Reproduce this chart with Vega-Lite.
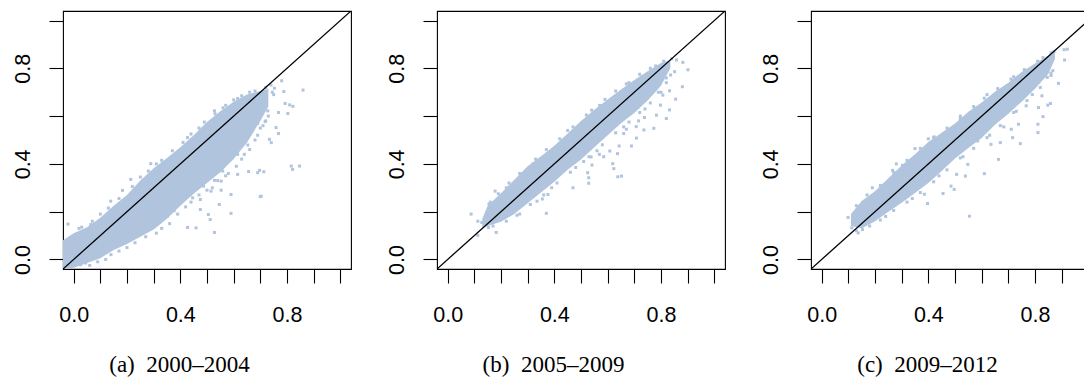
{
"$schema": "https://vega.github.io/schema/vega-lite/v6.json",
"padding": {"left": 0, "top": 10, "right": 0, "bottom": 0},
"spacing": 22,
"background": "white",
"config": {
  "view": {"stroke": "black", "strokeWidth": 1.1},
  "font": "Liberation Sans",
  "axis": {"grid": false, "domain": false, "ticks": true, "tickColor": "black", "tickSize": 14, "tickWidth": 1.1,
    "labelFont": "Liberation Sans", "labelFontSize": 21.5, "labelColor": "black", "labelFlush": false, "labelOverlap": false,
    "values": [0, 0.2, 0.4, 0.6, 0.8, 1.0],
    "labelExpr": "datum.value < 0.05 || abs(datum.value - 0.4) < 0.01 || abs(datum.value - 0.8) < 0.01 ? format(datum.value, '.1f') : ''",
    "titleFont": "Liberation Serif", "titleFontSize": 23, "titleFontWeight": "normal", "titleColor": "black"},
  "axisX": {"labelPadding": 21, "labelBaseline": "top", "labelAlign": "center", "labelAngle": 0, "titleX": 116, "titleY": 102, "titleAlign": "center", "titleBaseline": "alphabetic", "titleAnchor": null},
  "axisY": {"labelAngle": 270, "labelAlign": "center", "labelBaseline": "alphabetic", "labelPadding": 20, "minExtent": 62, "maxExtent": 62}
},
"datasets": {
  "diag": [{"x": -0.04, "y": -0.04, "x2": 1.04, "y2": 1.04}],
  "band_a": [
    {"x": -0.04, "lo": -0.04, "hi": 0.08},
    {"x": 0.00, "lo": -0.035, "hi": 0.11},
    {"x": 0.05, "lo": -0.015, "hi": 0.135},
    {"x": 0.10, "lo": 0.005, "hi": 0.175},
    {"x": 0.15, "lo": 0.04, "hi": 0.225},
    {"x": 0.20, "lo": 0.065, "hi": 0.27},
    {"x": 0.25, "lo": 0.095, "hi": 0.33},
    {"x": 0.30, "lo": 0.125, "hi": 0.382},
    {"x": 0.35, "lo": 0.17, "hi": 0.425},
    {"x": 0.40, "lo": 0.225, "hi": 0.47},
    {"x": 0.45, "lo": 0.275, "hi": 0.52},
    {"x": 0.50, "lo": 0.32, "hi": 0.575},
    {"x": 0.55, "lo": 0.365, "hi": 0.62},
    {"x": 0.60, "lo": 0.42, "hi": 0.66},
    {"x": 0.65, "lo": 0.49, "hi": 0.69},
    {"x": 0.70, "lo": 0.58, "hi": 0.705},
    {"x": 0.73, "lo": 0.64, "hi": 0.715}
  ],
  "pts_a": [
    {"x": -0.021, "y": 0.148}, {"x": 0.064, "y": 0.146}, {"x": 0.860, "y": 0.709}, {"x": 0.780, "y": 0.748},
    {"x": 0.788, "y": 0.703}, {"x": 0.753, "y": 0.717}, {"x": 0.810, "y": 0.647}, {"x": 0.793, "y": 0.653},
    {"x": 0.822, "y": 0.641}, {"x": 0.803, "y": 0.611}, {"x": 0.768, "y": 0.615}, {"x": 0.728, "y": 0.622},
    {"x": 0.759, "y": 0.552}, {"x": 0.768, "y": 0.527}, {"x": 0.734, "y": 0.503}, {"x": 0.741, "y": 0.489},
    {"x": 0.690, "y": 0.569}, {"x": 0.718, "y": 0.577}, {"x": 0.662, "y": 0.552}, {"x": 0.653, "y": 0.479},
    {"x": 0.625, "y": 0.489}, {"x": 0.615, "y": 0.440}, {"x": 0.586, "y": 0.419}, {"x": 0.656, "y": 0.368},
    {"x": 0.690, "y": 0.363}, {"x": 0.713, "y": 0.367}, {"x": 0.697, "y": 0.373}, {"x": 0.816, "y": 0.391},
    {"x": 0.847, "y": 0.391}, {"x": 0.821, "y": 0.377}, {"x": 0.615, "y": 0.356}, {"x": 0.559, "y": 0.370},
    {"x": 0.553, "y": 0.328}, {"x": 0.528, "y": 0.331}, {"x": 0.515, "y": 0.286}, {"x": 0.487, "y": 0.307},
    {"x": 0.452, "y": 0.307}, {"x": 0.590, "y": 0.272}, {"x": 0.700, "y": 0.263}, {"x": 0.546, "y": 0.230},
    {"x": 0.505, "y": 0.188}, {"x": 0.512, "y": 0.167}, {"x": 0.590, "y": 0.193}, {"x": 0.459, "y": 0.132},
    {"x": 0.427, "y": 0.134}, {"x": 0.528, "y": 0.113}, {"x": 0.475, "y": 0.209}, {"x": 0.446, "y": 0.258},
    {"x": 0.402, "y": 0.272}, {"x": 0.352, "y": 0.181}, {"x": 0.377, "y": 0.204}, {"x": 0.308, "y": 0.160},
    {"x": 0.277, "y": 0.139}, {"x": 0.239, "y": 0.125}, {"x": 0.208, "y": 0.092}, {"x": 0.164, "y": 0.076},
    {"x": 0.026, "y": -0.022}, {"x": 0.045, "y": -0.015}, {"x": 0.214, "y": 0.335}, {"x": 0.183, "y": 0.289},
    {"x": 0.139, "y": 0.244}, {"x": 0.289, "y": 0.401}, {"x": 0.427, "y": 0.510}, {"x": 0.528, "y": 0.622},
    {"x": 0.615, "y": 0.674}, {"x": 0.553, "y": 0.290}, {"x": 0.475, "y": 0.251}, {"x": 0.703, "y": 0.265},
    {"x": 0.02, "y": 0.13}, {"x": 0.10, "y": 0.19}, {"x": 0.25, "y": 0.345}, {"x": 0.33, "y": 0.415},
    {"x": 0.47, "y": 0.55}, {"x": 0.57, "y": 0.645}, {"x": 0.66, "y": 0.70}, {"x": 0.72, "y": 0.72},
    {"x": 0.74, "y": 0.73}, {"x": 0.12, "y": 0.0}, {"x": 0.20, "y": 0.05}, {"x": 0.33, "y": 0.13},
    {"x": 0.42, "y": 0.22}, {"x": 0.50, "y": 0.29}, {"x": 0.58, "y": 0.36}, {"x": 0.64, "y": 0.44},
    {"x": 0.68, "y": 0.50}, {"x": 0.70, "y": 0.55}, {"x": 0.72, "y": 0.58}, {"x": 0.745, "y": 0.70},
    {"x": 0.75, "y": 0.69},
    {"x": 0.03, "y": 0.135}, {"x": 0.07, "y": 0.16}, {"x": 0.13, "y": 0.215}, {"x": 0.17, "y": 0.255},
    {"x": 0.22, "y": 0.305}, {"x": 0.28, "y": 0.37}, {"x": 0.31, "y": 0.40}, {"x": 0.37, "y": 0.455},
    {"x": 0.41, "y": 0.49}, {"x": 0.44, "y": 0.525}, {"x": 0.49, "y": 0.575}, {"x": 0.53, "y": 0.61},
    {"x": 0.56, "y": 0.635}, {"x": 0.60, "y": 0.668}, {"x": 0.63, "y": 0.685}, {"x": 0.68, "y": 0.705},
    {"x": 0.06, "y": -0.025}, {"x": 0.09, "y": -0.01}, {"x": 0.14, "y": 0.02}, {"x": 0.17, "y": 0.035},
    {"x": 0.23, "y": 0.07}, {"x": 0.27, "y": 0.095}, {"x": 0.31, "y": 0.11}, {"x": 0.36, "y": 0.15},
    {"x": 0.39, "y": 0.19}, {"x": 0.44, "y": 0.24}, {"x": 0.47, "y": 0.27}, {"x": 0.52, "y": 0.30},
    {"x": 0.54, "y": 0.33}, {"x": 0.57, "y": 0.35}, {"x": 0.61, "y": 0.39}, {"x": 0.63, "y": 0.42},
    {"x": 0.66, "y": 0.46}, {"x": 0.69, "y": 0.52}, {"x": 0.71, "y": 0.56}, {"x": 0.73, "y": 0.60}
  ],
  "band_b": [
    {"x": 0.13, "lo": 0.13, "hi": 0.17},
    {"x": 0.15, "lo": 0.14, "hi": 0.225},
    {"x": 0.20, "lo": 0.158, "hi": 0.277},
    {"x": 0.25, "lo": 0.19, "hi": 0.334},
    {"x": 0.30, "lo": 0.235, "hi": 0.39},
    {"x": 0.35, "lo": 0.28, "hi": 0.432},
    {"x": 0.40, "lo": 0.325, "hi": 0.476},
    {"x": 0.45, "lo": 0.375, "hi": 0.527},
    {"x": 0.50, "lo": 0.418, "hi": 0.58},
    {"x": 0.55, "lo": 0.47, "hi": 0.627},
    {"x": 0.60, "lo": 0.52, "hi": 0.67},
    {"x": 0.65, "lo": 0.57, "hi": 0.711},
    {"x": 0.70, "lo": 0.613, "hi": 0.751},
    {"x": 0.75, "lo": 0.665, "hi": 0.788},
    {"x": 0.80, "lo": 0.727, "hi": 0.822},
    {"x": 0.835, "lo": 0.80, "hi": 0.835}
  ],
  "pts_b": [
    {"x": 0.088, "y": 0.190}, {"x": 0.113, "y": 0.160}, {"x": 0.128, "y": 0.155}, {"x": 0.153, "y": 0.134},
    {"x": 0.113, "y": 0.101}, {"x": 0.182, "y": 0.113}, {"x": 0.155, "y": 0.232}, {"x": 0.178, "y": 0.286},
    {"x": 0.370, "y": 0.193}, {"x": 0.335, "y": 0.244}, {"x": 0.355, "y": 0.253}, {"x": 0.376, "y": 0.272},
    {"x": 0.470, "y": 0.300}, {"x": 0.529, "y": 0.319}, {"x": 0.529, "y": 0.342}, {"x": 0.525, "y": 0.363},
    {"x": 0.623, "y": 0.380}, {"x": 0.638, "y": 0.346}, {"x": 0.652, "y": 0.349}, {"x": 0.619, "y": 0.401},
    {"x": 0.637, "y": 0.443}, {"x": 0.585, "y": 0.430}, {"x": 0.569, "y": 0.440}, {"x": 0.538, "y": 0.429},
    {"x": 0.541, "y": 0.395}, {"x": 0.689, "y": 0.475}, {"x": 0.643, "y": 0.475}, {"x": 0.670, "y": 0.545},
    {"x": 0.707, "y": 0.556}, {"x": 0.736, "y": 0.542}, {"x": 0.773, "y": 0.549}, {"x": 0.738, "y": 0.594},
    {"x": 0.783, "y": 0.604}, {"x": 0.820, "y": 0.590}, {"x": 0.798, "y": 0.646}, {"x": 0.832, "y": 0.626},
    {"x": 0.807, "y": 0.688}, {"x": 0.832, "y": 0.706}, {"x": 0.855, "y": 0.671}, {"x": 0.880, "y": 0.723},
    {"x": 0.882, "y": 0.825}, {"x": 0.901, "y": 0.794}, {"x": 0.858, "y": 0.835}, {"x": 0.851, "y": 0.786},
    {"x": 0.836, "y": 0.772}, {"x": 0.708, "y": 0.508}, {"x": 0.608, "y": 0.454}, {"x": 0.660, "y": 0.527},
    {"x": 0.716, "y": 0.580}, {"x": 0.22, "y": 0.30}, {"x": 0.32, "y": 0.40}, {"x": 0.45, "y": 0.54},
    {"x": 0.57, "y": 0.645}, {"x": 0.68, "y": 0.74}, {"x": 0.78, "y": 0.81}, {"x": 0.84, "y": 0.84},
    {"x": 0.27, "y": 0.19}, {"x": 0.39, "y": 0.30}, {"x": 0.48, "y": 0.385}, {"x": 0.56, "y": 0.455},
    {"x": 0.66, "y": 0.555}, {"x": 0.74, "y": 0.63}, {"x": 0.79, "y": 0.70}, {"x": 0.82, "y": 0.76},
    {"x": 0.16, "y": 0.24}, {"x": 0.19, "y": 0.275}, {"x": 0.23, "y": 0.32}, {"x": 0.27, "y": 0.36},
    {"x": 0.33, "y": 0.42}, {"x": 0.37, "y": 0.46}, {"x": 0.42, "y": 0.505}, {"x": 0.47, "y": 0.555},
    {"x": 0.52, "y": 0.605}, {"x": 0.54, "y": 0.625}, {"x": 0.59, "y": 0.67}, {"x": 0.63, "y": 0.705},
    {"x": 0.67, "y": 0.735}, {"x": 0.72, "y": 0.775}, {"x": 0.76, "y": 0.80}, {"x": 0.81, "y": 0.83},
    {"x": 0.17, "y": 0.14}, {"x": 0.22, "y": 0.16}, {"x": 0.26, "y": 0.185}, {"x": 0.31, "y": 0.23},
    {"x": 0.36, "y": 0.27}, {"x": 0.41, "y": 0.32}, {"x": 0.46, "y": 0.365}, {"x": 0.51, "y": 0.41},
    {"x": 0.53, "y": 0.43}, {"x": 0.58, "y": 0.48}, {"x": 0.63, "y": 0.53}, {"x": 0.68, "y": 0.575},
    {"x": 0.72, "y": 0.615}, {"x": 0.76, "y": 0.655}, {"x": 0.80, "y": 0.70}, {"x": 0.82, "y": 0.74}
  ],
  "band_c": [
    {"x": 0.11, "lo": 0.14, "hi": 0.19},
    {"x": 0.15, "lo": 0.13, "hi": 0.245},
    {"x": 0.20, "lo": 0.16, "hi": 0.285},
    {"x": 0.25, "lo": 0.20, "hi": 0.34},
    {"x": 0.30, "lo": 0.237, "hi": 0.393},
    {"x": 0.35, "lo": 0.278, "hi": 0.44},
    {"x": 0.40, "lo": 0.32, "hi": 0.492},
    {"x": 0.45, "lo": 0.37, "hi": 0.53},
    {"x": 0.50, "lo": 0.423, "hi": 0.569},
    {"x": 0.55, "lo": 0.467, "hi": 0.618},
    {"x": 0.60, "lo": 0.508, "hi": 0.657},
    {"x": 0.65, "lo": 0.564, "hi": 0.702},
    {"x": 0.70, "lo": 0.61, "hi": 0.74},
    {"x": 0.75, "lo": 0.66, "hi": 0.785},
    {"x": 0.80, "lo": 0.715, "hi": 0.82},
    {"x": 0.85, "lo": 0.776, "hi": 0.854},
    {"x": 0.875, "lo": 0.84, "hi": 0.875}
  ],
  "pts_c": [
    {"x": 0.099, "y": 0.176}, {"x": 0.115, "y": 0.155}, {"x": 0.113, "y": 0.132}, {"x": 0.137, "y": 0.111},
    {"x": 0.153, "y": 0.125}, {"x": 0.155, "y": 0.232}, {"x": 0.266, "y": 0.373}, {"x": 0.303, "y": 0.394},
    {"x": 0.350, "y": 0.464}, {"x": 0.422, "y": 0.513}, {"x": 0.455, "y": 0.276}, {"x": 0.497, "y": 0.293},
    {"x": 0.485, "y": 0.307}, {"x": 0.397, "y": 0.234}, {"x": 0.385, "y": 0.273}, {"x": 0.554, "y": 0.181},
    {"x": 0.539, "y": 0.349}, {"x": 0.506, "y": 0.356}, {"x": 0.548, "y": 0.398}, {"x": 0.585, "y": 0.496},
    {"x": 0.635, "y": 0.482}, {"x": 0.670, "y": 0.489}, {"x": 0.663, "y": 0.419}, {"x": 0.745, "y": 0.485},
    {"x": 0.716, "y": 0.510}, {"x": 0.683, "y": 0.555}, {"x": 0.738, "y": 0.566}, {"x": 0.811, "y": 0.531},
    {"x": 0.811, "y": 0.566}, {"x": 0.830, "y": 0.598}, {"x": 0.813, "y": 0.636}, {"x": 0.858, "y": 0.653},
    {"x": 0.848, "y": 0.646}, {"x": 0.826, "y": 0.685}, {"x": 0.767, "y": 0.643}, {"x": 0.888, "y": 0.737},
    {"x": 0.846, "y": 0.762}, {"x": 0.867, "y": 0.790}, {"x": 0.911, "y": 0.835}, {"x": 0.909, "y": 0.878},
    {"x": 0.921, "y": 0.880}, {"x": 0.871, "y": 0.870}, {"x": 0.610, "y": 0.359}, {"x": 0.711, "y": 0.545},
    {"x": 0.19, "y": 0.30}, {"x": 0.28, "y": 0.40}, {"x": 0.40, "y": 0.505}, {"x": 0.52, "y": 0.60},
    {"x": 0.62, "y": 0.69}, {"x": 0.72, "y": 0.765}, {"x": 0.83, "y": 0.845}, {"x": 0.24, "y": 0.18},
    {"x": 0.34, "y": 0.255}, {"x": 0.44, "y": 0.35}, {"x": 0.53, "y": 0.43}, {"x": 0.63, "y": 0.52},
    {"x": 0.73, "y": 0.62}, {"x": 0.79, "y": 0.69}, {"x": 0.86, "y": 0.78},
    {"x": 0.13, "y": 0.225}, {"x": 0.17, "y": 0.27}, {"x": 0.22, "y": 0.31}, {"x": 0.27, "y": 0.365},
    {"x": 0.32, "y": 0.415}, {"x": 0.37, "y": 0.465}, {"x": 0.42, "y": 0.51}, {"x": 0.47, "y": 0.55},
    {"x": 0.52, "y": 0.59}, {"x": 0.57, "y": 0.64}, {"x": 0.61, "y": 0.675}, {"x": 0.66, "y": 0.715},
    {"x": 0.71, "y": 0.755}, {"x": 0.76, "y": 0.795}, {"x": 0.81, "y": 0.83}, {"x": 0.86, "y": 0.865},
    {"x": 0.13, "y": 0.12}, {"x": 0.18, "y": 0.14}, {"x": 0.22, "y": 0.165}, {"x": 0.27, "y": 0.205},
    {"x": 0.32, "y": 0.24}, {"x": 0.37, "y": 0.28}, {"x": 0.42, "y": 0.325}, {"x": 0.47, "y": 0.375},
    {"x": 0.52, "y": 0.425}, {"x": 0.57, "y": 0.465}, {"x": 0.62, "y": 0.51}, {"x": 0.67, "y": 0.56},
    {"x": 0.72, "y": 0.615}, {"x": 0.77, "y": 0.665}, {"x": 0.82, "y": 0.72}, {"x": 0.86, "y": 0.77}
  ]
},
"hconcat": [
  {"width": 288, "height": 258, "layer": [
    {"data": {"name": "band_a"}, "mark": {"type": "area", "color": "#B0C4DE", "opacity": 1, "clip": true},
     "encoding": {
       "x": {"field": "x", "type": "quantitative", "scale": {"domain": [-0.04, 1.04], "nice": false, "zero": false}, "axis": {"title": "(a)\u20022000\u20132004"}},
       "y": {"field": "lo", "type": "quantitative", "scale": {"domain": [-0.04, 1.04], "nice": false, "zero": false}, "axis": {"title": null, "labelAngle": 270, "labelAlign": "center", "labelBaseline": "alphabetic", "labelPadding": 20}},
       "y2": {"field": "hi"}}},
    {"data": {"name": "pts_a"}, "mark": {"type": "square", "color": "#B0C4DE", "size": 9, "opacity": 1, "clip": true},
     "encoding": {
       "x": {"field": "x", "type": "quantitative", "scale": {"domain": [-0.04, 1.04], "nice": false, "zero": false}, "axis": {"title": "(a)\u20022000\u20132004"}},
       "y": {"field": "y", "type": "quantitative", "scale": {"domain": [-0.04, 1.04], "nice": false, "zero": false}, "axis": {"title": null, "labelAngle": 270, "labelAlign": "center", "labelBaseline": "alphabetic", "labelPadding": 20}}}},
    {"data": {"name": "diag"}, "mark": {"type": "rule", "color": "black", "strokeWidth": 1.3, "clip": true},
     "encoding": {
       "x": {"field": "x", "type": "quantitative", "scale": {"domain": [-0.04, 1.04], "nice": false, "zero": false}, "axis": {"title": "(a)\u20022000\u20132004"}},
       "y": {"field": "y", "type": "quantitative", "scale": {"domain": [-0.04, 1.04], "nice": false, "zero": false}, "axis": {"title": null, "labelAngle": 270, "labelAlign": "center", "labelBaseline": "alphabetic", "labelPadding": 20}},
       "x2": {"field": "x2"}, "y2": {"field": "y2"}}}
  ]},
  {"width": 288, "height": 258, "layer": [
    {"data": {"name": "band_b"}, "mark": {"type": "area", "color": "#B0C4DE", "opacity": 1, "clip": true},
     "encoding": {
       "x": {"field": "x", "type": "quantitative", "scale": {"domain": [-0.04, 1.04], "nice": false, "zero": false}, "axis": {"title": "(b)\u20022005\u20132009"}},
       "y": {"field": "lo", "type": "quantitative", "scale": {"domain": [-0.04, 1.04], "nice": false, "zero": false}, "axis": {"title": null, "labelAngle": 270, "labelAlign": "center", "labelBaseline": "alphabetic", "labelPadding": 20}},
       "y2": {"field": "hi"}}},
    {"data": {"name": "pts_b"}, "mark": {"type": "square", "color": "#B0C4DE", "size": 9, "opacity": 1, "clip": true},
     "encoding": {
       "x": {"field": "x", "type": "quantitative", "scale": {"domain": [-0.04, 1.04], "nice": false, "zero": false}, "axis": {"title": "(b)\u20022005\u20132009"}},
       "y": {"field": "y", "type": "quantitative", "scale": {"domain": [-0.04, 1.04], "nice": false, "zero": false}, "axis": {"title": null, "labelAngle": 270, "labelAlign": "center", "labelBaseline": "alphabetic", "labelPadding": 20}}}},
    {"data": {"name": "diag"}, "mark": {"type": "rule", "color": "black", "strokeWidth": 1.3, "clip": true},
     "encoding": {
       "x": {"field": "x", "type": "quantitative", "scale": {"domain": [-0.04, 1.04], "nice": false, "zero": false}, "axis": {"title": "(b)\u20022005\u20132009"}},
       "y": {"field": "y", "type": "quantitative", "scale": {"domain": [-0.04, 1.04], "nice": false, "zero": false}, "axis": {"title": null, "labelAngle": 270, "labelAlign": "center", "labelBaseline": "alphabetic", "labelPadding": 20}},
       "x2": {"field": "x2"}, "y2": {"field": "y2"}}}
  ]},
  {"width": 288, "height": 258, "layer": [
    {"data": {"name": "band_c"}, "mark": {"type": "area", "color": "#B0C4DE", "opacity": 1, "clip": true},
     "encoding": {
       "x": {"field": "x", "type": "quantitative", "scale": {"domain": [-0.04, 1.04], "nice": false, "zero": false}, "axis": {"title": "(c)\u20022009\u20132012"}},
       "y": {"field": "lo", "type": "quantitative", "scale": {"domain": [-0.04, 1.04], "nice": false, "zero": false}, "axis": {"title": null, "labelAngle": 270, "labelAlign": "center", "labelBaseline": "alphabetic", "labelPadding": 20}},
       "y2": {"field": "hi"}}},
    {"data": {"name": "pts_c"}, "mark": {"type": "square", "color": "#B0C4DE", "size": 9, "opacity": 1, "clip": true},
     "encoding": {
       "x": {"field": "x", "type": "quantitative", "scale": {"domain": [-0.04, 1.04], "nice": false, "zero": false}, "axis": {"title": "(c)\u20022009\u20132012"}},
       "y": {"field": "y", "type": "quantitative", "scale": {"domain": [-0.04, 1.04], "nice": false, "zero": false}, "axis": {"title": null, "labelAngle": 270, "labelAlign": "center", "labelBaseline": "alphabetic", "labelPadding": 20}}}},
    {"data": {"name": "diag"}, "mark": {"type": "rule", "color": "black", "strokeWidth": 1.3, "clip": true},
     "encoding": {
       "x": {"field": "x", "type": "quantitative", "scale": {"domain": [-0.04, 1.04], "nice": false, "zero": false}, "axis": {"title": "(c)\u20022009\u20132012"}},
       "y": {"field": "y", "type": "quantitative", "scale": {"domain": [-0.04, 1.04], "nice": false, "zero": false}, "axis": {"title": null, "labelAngle": 270, "labelAlign": "center", "labelBaseline": "alphabetic", "labelPadding": 20}},
       "x2": {"field": "x2"}, "y2": {"field": "y2"}}}
  ]}
]
}
